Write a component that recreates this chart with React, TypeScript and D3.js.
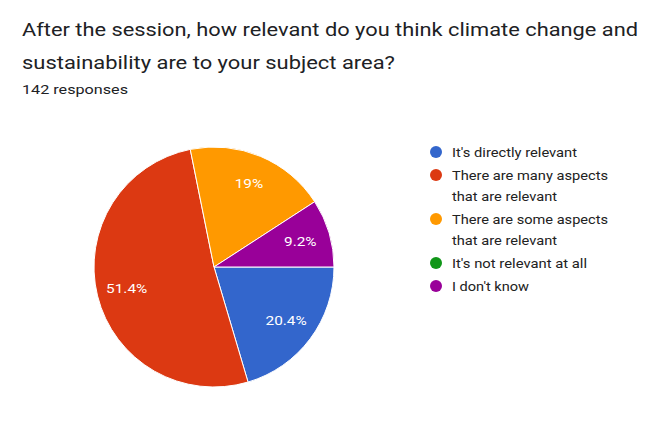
import React from "react";
import * as d3 from "d3";

const categories = [
  "It's directly relevant",
  "There are many aspects that are relevant",
  "There are some aspects that are relevant",
  "It's not relevant at all",
  "I don't know",
];
const counts = [29, 73, 27, 0, 13];
const colors = ["#3366cc", "#dc3912", "#ff9900", "#109618", "#990099"];
const legendLines = [
  ["It's directly relevant"],
  ["There are many aspects", "that are relevant"],
  ["There are some aspects", "that are relevant"],
  ["It's not relevant at all"],
  ["I don't know"],
];
const titleLines = [
  "After the session, how relevant do you think climate change and",
  "sustainability are to your subject area?",
];
const subtitle = "142 responses";

// layout / style (not data)
const W = 668;
const H = 428;
const cx = 214;
const cy = 267;
const R = 120;
const titleWidths = [616, 373];
const subtitleWidth = 106;
const legendWidths: Record<string, number> = {
  "It's directly relevant": 125,
  "There are many aspects": 156,
  "There are some aspects": 156,
  "that are relevant": 105,
  "It's not relevant at all": 135,
  "I don't know": 77,
};
const labelStretch = 1.28;

function fmt(v: number) {
  const s = (v * 100).toFixed(1);
  return (s.endsWith(".0") ? s.slice(0, -2) : s) + "%";
}

export default function App() {
  const total = d3.sum(counts);
  const data = categories.map((c, i) => ({ c, v: counts[i], i }));
  const pie = d3
    .pie<any>()
    .value((d) => d.v)
    .sort(null)
    .startAngle(Math.PI / 2)
    .endAngle(Math.PI / 2 + 2 * Math.PI);
  const arcs = pie(data);
  const arc = d3.arc<any>().innerRadius(0).outerRadius(R);
  const labelArc = d3.arc<any>().innerRadius(R * 0.75).outerRadius(R * 0.75);

  let ly = 152;
  const legendItems = legendLines.map((lines, i) => {
    const y = ly;
    ly += (lines.length - 1) * 21 + 23;
    return { lines, y, i };
  });

  return (
    <svg
      width={W}
      height={H}
      style={{ position: "absolute", left: 0, top: 0, background: "#fff" }}
      fontFamily="Roboto, Arial, sans-serif"
    >
      <rect width={W} height={H} fill="#fff" />
      {titleLines.map((t, i) => (
        <text
          key={i}
          x={22}
          y={36 + i * 33}
          fontSize={17.5}
          fill="#202124"
          textLength={titleWidths[i]}
          lengthAdjust="spacingAndGlyphs"
        >
          {t}
        </text>
      ))}
      <text
        x={22}
        y={94}
        fontSize={12}
        fill="#202124"
        textLength={subtitleWidth}
        lengthAdjust="spacingAndGlyphs"
      >
        {subtitle}
      </text>
      <g transform={`translate(${cx},${cy})`}>
        {arcs.map((a, i) =>
          a.data.v > 0 ? (
            <path key={i} d={arc(a) as string} fill={colors[i]} stroke="#fff" strokeWidth={1} />
          ) : null
        )}
        {arcs.map((a, i) => {
          if (a.data.v === 0) return null;
          const [x, y] = labelArc.centroid(a);
          const label = fmt(a.data.v / total);
          return (
            <text
              key={i}
              transform={`translate(${x},${y}) scale(${labelStretch},1)`}
              dy="0.35em"
              textAnchor="middle"
              fontSize={12}
              fill="#fff"
            >
              {label}
            </text>
          );
        })}
      </g>
      {legendItems.map(({ lines, y, i }) => (
        <g key={i}>
          <circle cx={436} cy={y} r={6} fill={colors[i]} />
          {lines.map((l, j) => (
            <text
              key={j}
              x={452}
              y={y + j * 21}
              dy="0.35em"
              fontSize={13}
              fill="#222"
              textLength={legendWidths[l]}
              lengthAdjust="spacingAndGlyphs"
            >
              {l}
            </text>
          ))}
        </g>
      ))}
    </svg>
  );
}
